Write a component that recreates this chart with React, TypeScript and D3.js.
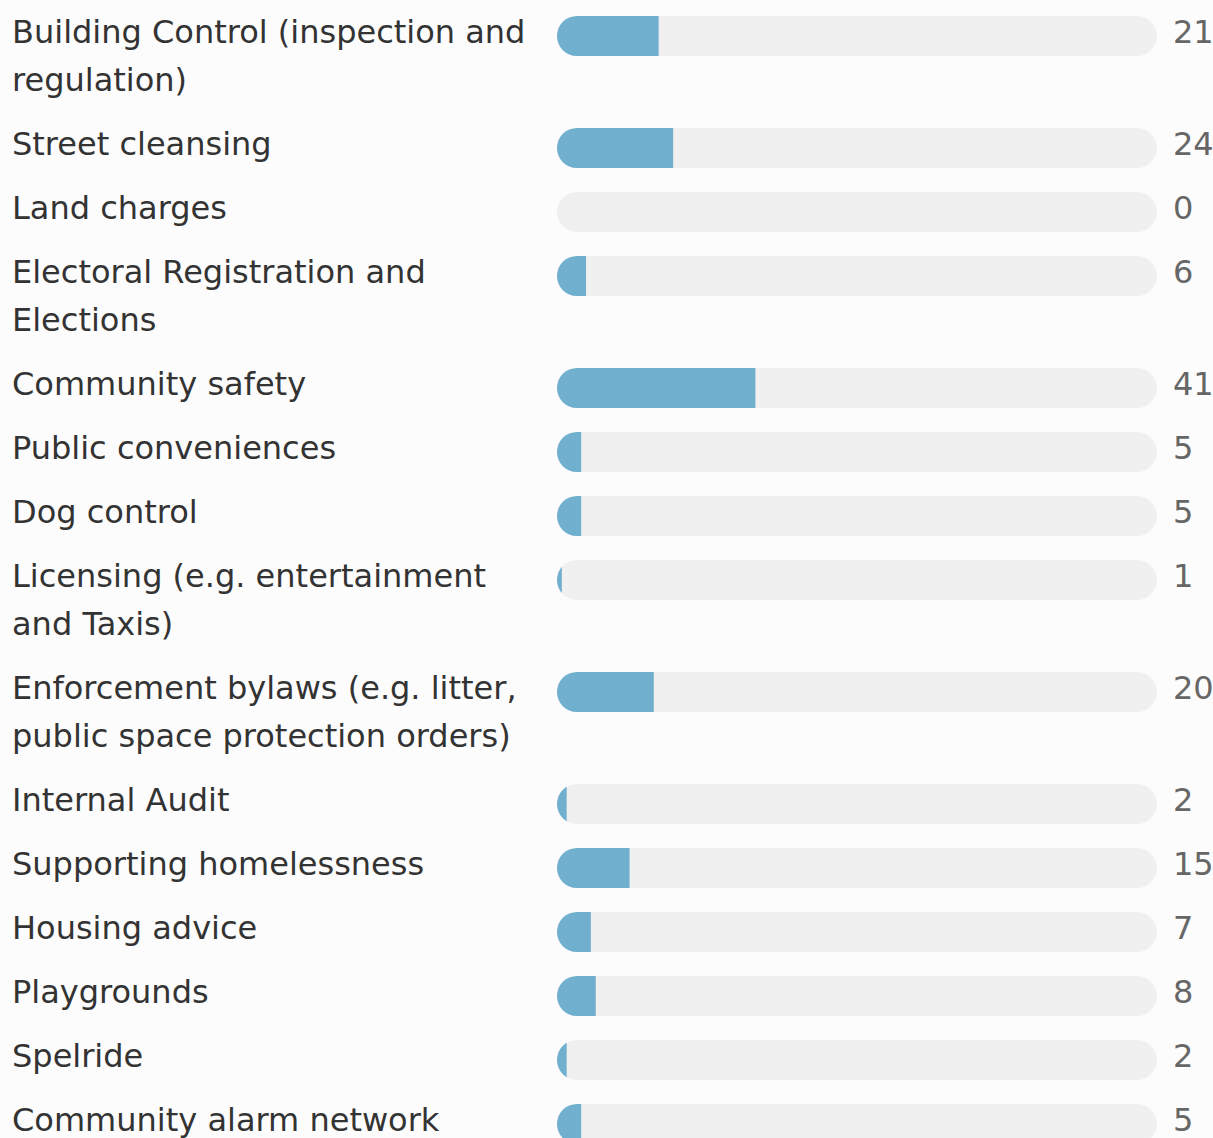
import React, { useEffect, useRef } from 'react';
import * as d3 from 'd3';

const categories = [
  'Building Control (inspection and regulation)',
  'Street cleansing',
  'Land charges',
  'Electoral Registration and Elections',
  'Community safety',
  'Public conveniences',
  'Dog control',
  'Licensing (e.g. entertainment and Taxis)',
  'Enforcement bylaws (e.g. litter, public space protection orders)',
  'Internal Audit',
  'Supporting homelessness',
  'Housing advice',
  'Playgrounds',
  'Spelride',
  'Community alarm network',
];

const counts = [21, 24, 0, 6, 41, 5, 5, 1, 20, 2, 15, 7, 8, 2, 5];

const scaleMax = 124;

const W = 1213;
const H = 1138;

const App = () => {
  const svgRef = useRef<SVGSVGElement>(null);

  useEffect(() => {
    const svg = d3.select(svgRef.current);
    svg.selectAll('*').remove();

    svg.append('rect').attr('width', W).attr('height', H).attr('fill', '#fcfcfc');

    const labelX = 12;
    const trackX = 557;
    const trackW = 600;
    const barH = 40;
    const lineH = 48;
    const labelMax = 532;

    const x = d3.scaleLinear().domain([0, scaleMax]).range([0, trackW]);
    const defs = svg.append('defs');

    let y = 0;
    categories.forEach((name, i) => {
      const g = svg.append('g').attr('transform', `translate(0,${y})`);

      // wrap label to fit the left column
      const label = g.append('text')
        .attr('x', labelX)
        .attr('y', 43)
        .attr('fill', '#333333')
        .style('font-family', '"DejaVu Sans", sans-serif')
        .style('font-size', '32px');

      const words = name.split(' ');
      let line: string[] = [];
      let lineNo = 0;
      let tspan = label.append('tspan').attr('x', labelX).attr('y', 43);
      words.forEach(w => {
        line.push(w);
        tspan.text(line.join(' '));
        if ((tspan.node() as SVGTSpanElement).getComputedTextLength() > labelMax && line.length > 1) {
          line.pop();
          tspan.text(line.join(' '));
          line = [w];
          lineNo += 1;
          tspan = label.append('tspan').attr('x', labelX).attr('y', 43 + lineNo * lineH).text(w);
        }
      });

      const clipId = `clip-${i}`;
      defs.append('clipPath').attr('id', clipId)
        .append('rect')
        .attr('x', trackX).attr('y', y + 16)
        .attr('width', trackW).attr('height', barH)
        .attr('rx', barH / 2);

      g.append('rect')
        .attr('x', trackX).attr('y', 16)
        .attr('width', trackW).attr('height', barH)
        .attr('rx', barH / 2)
        .attr('fill', '#f0f0f0');

      svg.append('rect')
        .attr('x', trackX).attr('y', y + 16)
        .attr('width', x(counts[i])).attr('height', barH)
        .attr('fill', '#71afcf')
        .attr('clip-path', `url(#${clipId})`);

      g.append('text')
        .attr('x', 1173)
        .attr('y', 43)
        .attr('fill', '#666666')
        .style('font-family', '"DejaVu Sans", sans-serif')
        .style('font-size', '32px')
        .text(counts[i]);

      y += 64 + lineNo * lineH;
    });
  }, []);

  return (
    <svg
      ref={svgRef}
      width={W}
      height={H}
      style={{ position: 'absolute', left: 0, top: 0, display: 'block' }}
    />
  );
};

export default App;
